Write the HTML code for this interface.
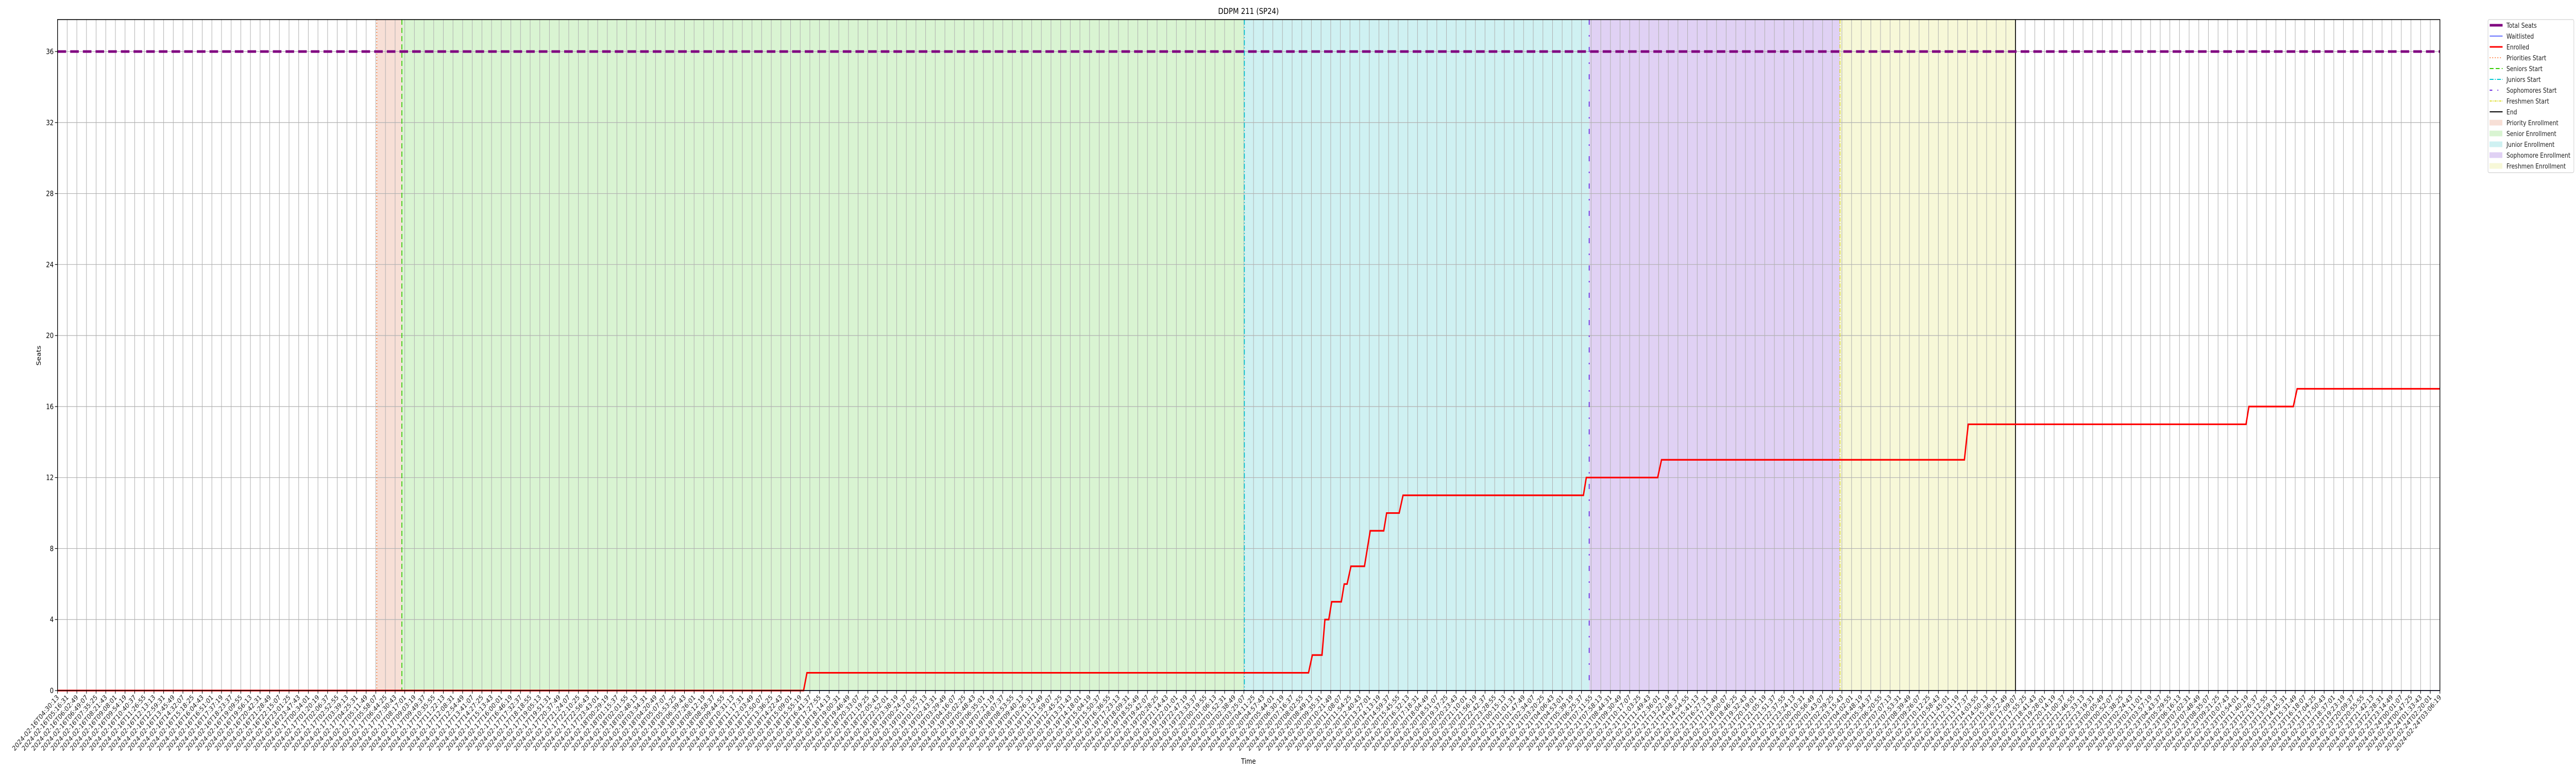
<!DOCTYPE html>
<html><head><meta charset="utf-8"><style>
html,body{margin:0;padding:0;background:#fff;width:100%;height:100%;overflow:hidden;}
svg{display:block;width:100vw;height:100vh;font-family:"DejaVu Sans","Liberation Sans",sans-serif;}
</style></head><body>
<svg id="chart" viewBox="0 0 6000 1500" preserveAspectRatio="none" xmlns="http://www.w3.org/2000/svg">
<g id="shades"></g>
<g id="grid"></g>
<g id="series"></g>
<g id="axes"></g>
<text x="2908" y="27" text-anchor="middle" font-size="16">DDPM 211 (SP24)</text>
<text x="2908" y="1482" text-anchor="middle" font-size="14">Time</text>
<text transform="translate(95,690) rotate(-90)" text-anchor="middle" font-size="14">Seats</text>
<g id="legend"></g>
</svg>
<script>
// ---- data ----
const tickCount = 248;
const tickStart = "2024-02-16T04:30:13";
const tickStepMinutes = 46.3;
const yTicks = [0,4,8,12,16,20,24,28,32,36];
const totalSeats = [36];
const waitlisted = [0];
const enrolledX = [0,77.35,77.7,129.7,130.1,131.1,131.4,131.8,132.1,133.1,133.4,133.7,134.1,135.5,136.1,137.5,137.8,139.1,139.5,158.2,158.5,165.9,166.3,197.7,198.1,226.9,227.2,231.8,232.2,247];
const enrolledY = [0,0,1,1,2,2,4,4,5,5,6,6,7,7,9,9,10,10,11,11,12,12,13,13,15,15,16,16,17,17];
const phaseNames = ["Priority Enrollment","Senior Enrollment","Junior Enrollment","Sophomore Enrollment","Freshmen Enrollment"];
const phaseStart = [33.1,35.7,123.05,158.8,184.8];
const phaseEnd = [35.7,123.05,158.8,184.8,203.0];
const endX = [203.0];

// ---- layout ----
const L=134,R=5683,T=38,B=1340,YMAX=37.8;
const sx=i=>L+(R-L)*i/(tickCount-1);
const sy=v=>B-(B-T)*v/YMAX;
const NS="http://www.w3.org/2000/svg";
function mk(tag,attrs,parent){const e=document.createElementNS(NS,tag);for(const k in attrs)e.setAttribute(k,attrs[k]);parent.appendChild(e);return e;}
const shades=document.getElementById('shades'),grid=document.getElementById('grid'),series=document.getElementById('series'),axes=document.getElementById('axes'),legend=document.getElementById('legend');
const fills=["#f7dfd6","#d9f4d2","#cff1f2","#e0d1f4","#f7f8d8"];
const lineCols=["#ff7f3f","#33cc00","#00c8d2","#6622dd","#dddd33"];
const dashes=["2,4","10,6","10,4,2,4","10,20,3,20","8,3,2,3"];
phaseStart.forEach((s,i)=>{
  const r=mk('rect',{x:sx(s),y:T,width:sx(phaseEnd[i])-sx(s),height:B-T,fill:fills[i]},shades);
  
  
});
function pad(n){return String(n).padStart(2,'0');}
const t0=new Date(tickStart+"Z").getTime();
const tickLabels=[];
for(let i=0;i<tickCount;i++){const d=new Date(t0+i*tickStepMinutes*60000);tickLabels.push(d.getUTCFullYear()+"-"+pad(d.getUTCMonth()+1)+"-"+pad(d.getUTCDate())+"T"+pad(d.getUTCHours())+":"+pad(d.getUTCMinutes())+":"+pad(d.getUTCSeconds()));}
for(let i=0;i<tickCount;i++){
  const x=sx(i);
  const g=mk('line',{x1:x,x2:x,y1:T,y2:B,stroke:"#b0b0b0","stroke-width":1.2},grid);
  
  
  mk('line',{x1:x,x2:x,y1:B,y2:B+6,stroke:"#000","stroke-width":1.2},axes);
  const t=mk('text',{transform:`translate(${x+4},${B+14}) rotate(-45)`,"text-anchor":"end","font-size":13.5,fill:"#222"},axes);
  
  
  t.textContent=tickLabels[i];
}
yTicks.forEach(v=>{
  const y=sy(v);
  const g=mk('line',{x1:L,x2:R,y1:y,y2:y,stroke:"#b0b0b0","stroke-width":1.2},grid);
  
  
  mk('line',{x1:L-6,x2:L,y1:y,y2:y,stroke:"#000","stroke-width":1.2},axes);
  const t=mk('text',{x:L-9,y:y+5,"text-anchor":"end","font-size":14},axes);
  
  
  t.textContent=v;
});
phaseStart.forEach((s,i)=>{
  const l=mk('line',{x1:sx(s),x2:sx(s),y1:T,y2:B,stroke:lineCols[i],"stroke-width":2,"stroke-dasharray":dashes[i]},series);
  
  
});
const el=mk('line',{x1:sx(endX[0]),x2:sx(endX[0]),y1:T,y2:B,stroke:"#000","stroke-width":2},series);


const wl=mk('line',{x1:L,x2:R,y1:sy(waitlisted[0]),y2:sy(waitlisted[0]),stroke:"#3344ff","stroke-width":1.5},series);


const pts=enrolledX.map((x,i)=>sx(x)+","+sy(enrolledY[i])).join(" ");
const en=mk('polyline',{points:pts,fill:"none",stroke:"#ff0000","stroke-width":3.2,"stroke-linejoin":"miter"},series);


const ts=mk('line',{x1:L,x2:R,y1:sy(totalSeats[0]),y2:sy(totalSeats[0]),stroke:"#800080","stroke-width":5,"stroke-dasharray":"20,9.5"},series);


mk('rect',{x:L,y:T,width:R-L,height:B-T,fill:"none",stroke:"#000","stroke-width":1.6},axes);
const lg=mk('rect',{x:5795,y:38,width:200,height:297,rx:3,fill:"#fff",stroke:"#d0d0d0","stroke-width":1.2},legend);


const entries=[["Total Seats","line","#800080",5,"20,0"],["Waitlisted","line","#3344ff",1.5,""],["Enrolled","line","#ff0000",3,""],
["Priorities Start","line",lineCols[0],2,dashes[0]],["Seniors Start","line",lineCols[1],2,"9,5"],["Juniors Start","line",lineCols[2],2,"9,3,2,3"],
["Sophomores Start","line",lineCols[3],2,"6,12,2,12"],["Freshmen Start","line",lineCols[4],2,"5,2,2,2"],["End","line","#000",2,""]];
phaseNames.forEach((n,i)=>entries.push([n,"patch",fills[i]]));
entries.forEach((e,i)=>{
  const y=49+i*21;
  const g=mk('g',{},legend);
  
  
  if(e[1]==="line"){mk('line',{x1:5799,x2:5829,y1:y,y2:y,stroke:e[2],"stroke-width":e[3],"stroke-dasharray":e[4]||"none"},g);}
  else{mk('rect',{x:5799,y:y-5,width:29,height:10,fill:e[2],stroke:e[2]},g);}
  const t=mk('text',{x:5838,y:y+5,"font-size":13,fill:"#222"},g);
  t.textContent=e[0];
});
</script>
</body></html>
